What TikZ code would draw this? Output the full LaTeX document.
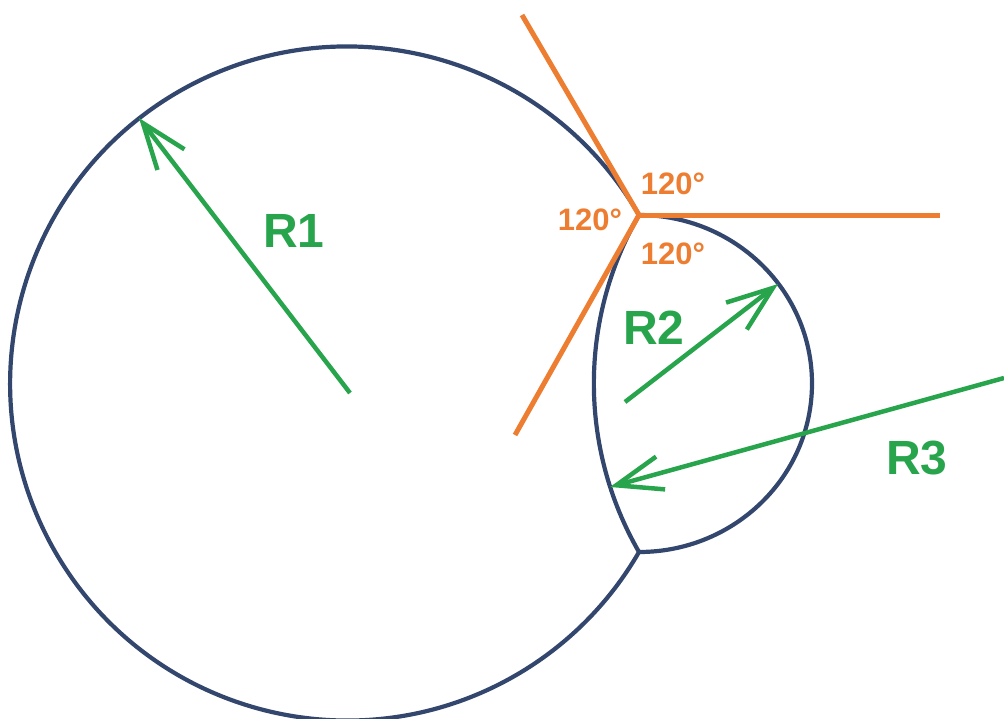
\documentclass[tikz,border=0pt]{standalone}
\usepackage{fontspec}
\setmainfont{Liberation Sans}
\usetikzlibrary{arrows.meta}
\definecolor{bubbleblue}{RGB}{50,70,110}
\definecolor{radgreen}{RGB}{40,165,76}
\definecolor{angorange}{RGB}{237,125,49}
\tikzset{
  bubble/.style={draw=bubbleblue, line width=4.2pt},
  radline/.style={draw=radgreen, line width=4.5pt},
  angline/.style={draw=angorange, line width=5pt},
  rlabel/.style={text=radgreen, font=\fontsize{48}{56}\selectfont\bfseries},
  alabel/.style={text=angorange, font=\fontsize{31}{36}\selectfont\bfseries},
  >={Straight Barb[length=46pt,width=34pt]}
}
\begin{document}
\begin{tikzpicture}[x=1pt, y=-1pt]
\useasboundingbox (0,0) rectangle (1004,718);
\coordinate (j1) at (639,215);
\coordinate (j2) at (639,552);
\coordinate (c1) at (350,393);
\coordinate (p1) at (139,118);
\coordinate (c2) at (625,402);
\coordinate (p2) at (778,284);
\coordinate (c3) at (1004,378);
\coordinate (p3) at (610,487);
\coordinate (o1) at (940,215);
\coordinate (o2) at (522,15);
\coordinate (o3) at (515,435);
\node[rlabel] (r1) at (294,231) {R1};
\node[rlabel] (r2) at (654,328) {R2};
\node[rlabel] (r3) at (917,458) {R3};
\node[alabel] (a1) at (673,184) {120°};
\node[alabel] (a2) at (590,220) {120°};
\node[alabel] (a3) at (673,254) {120°};
\draw [bubble] (j1) arc[start angle=-30, end angle=-330, radius=337];
\draw [bubble] (j1) arc[start angle=-90, end angle=90, x radius=173, y radius=168.5];
\draw [bubble] (j1) arc[start angle=210, end angle=150, radius=337];
\draw [angline] (j1) -- (o1);
\draw [angline] (j1) -- (o2);
\draw [angline] (j1) -- (o3);
\draw [->, radline] (c1) -- (p1);
\draw [->, radline] (c2) -- (p2);
\draw [->, radline] (c3) -- (p3);
\end{tikzpicture}
\end{document}
